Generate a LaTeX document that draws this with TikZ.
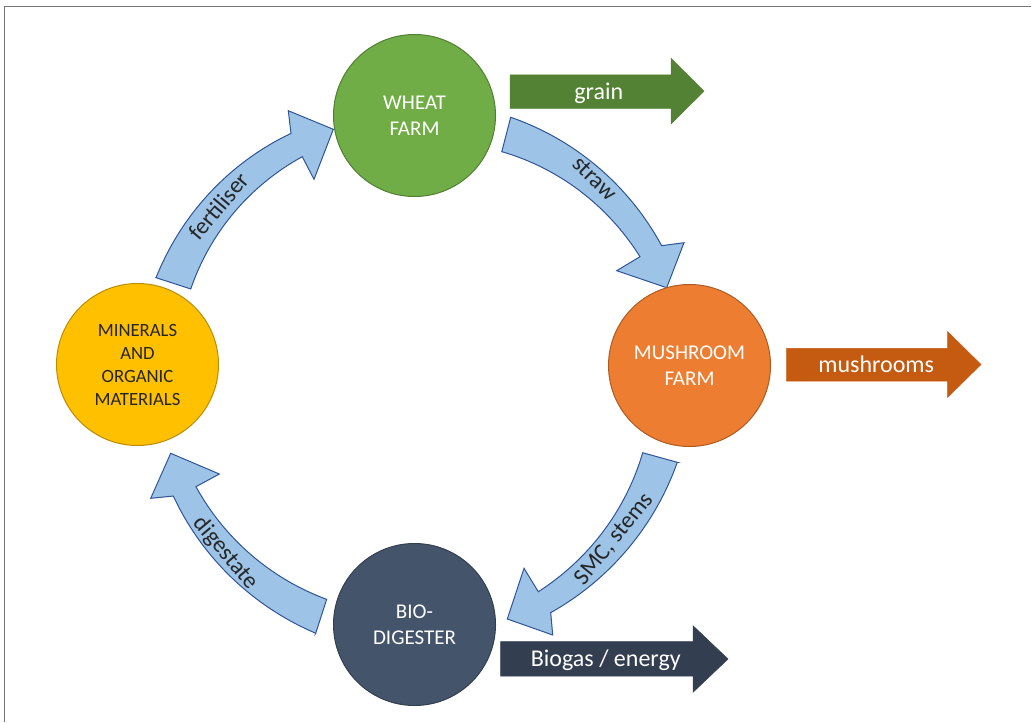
\documentclass[tikz,border=0pt]{standalone}
\usepackage{fontspec}
\setmainfont{Carlito}
\definecolor{wheatfill}{HTML}{70AD47}
\definecolor{wheatline}{HTML}{507E32}
\definecolor{mushfill}{HTML}{ED7D31}
\definecolor{mushline}{HTML}{AE5A21}
\definecolor{biofill}{HTML}{44546A}
\definecolor{bioline}{HTML}{323F4F}
\definecolor{minfill}{HTML}{FFC000}
\definecolor{minline}{HTML}{BC8C00}
\definecolor{grainc}{HTML}{548235}
\definecolor{mushc}{HTML}{C55A11}
\definecolor{biogasc}{HTML}{333F50}
\definecolor{arrfill}{HTML}{9DC3E6}
\definecolor{arrline}{HTML}{2F5597}
\definecolor{labeltext}{HTML}{262626}
\definecolor{framegray}{HTML}{767676}
\begin{document}
\begin{tikzpicture}[x=1pt,y=-1pt,
  circ/.style={circle, draw, line width=1pt, minimum size=162pt, inner sep=0pt, align=center},
  blockarrow/.style={fill=#1, draw=#1, line width=0.5pt},
  carrow/.style={fill=arrfill, draw=arrline, line width=1pt, line join=miter},
  wlabel/.style={font=\fontsize{24}{28}\selectfont, text=white, anchor=base},
  clabel/.style={font=\fontsize{23.5}{28}\selectfont, text=labeltext},
  pseg/.style n args={4}{insert path={-- plot[domain=0:1,samples=40,variable=\t]
     ({414+((#1)+((#3)-(#1))*\t)*cos((#2)+((#4)-(#2))*\t)},
      {370+((#1)+((#3)-(#1))*\t)*sin((#2)+((#4)-(#2))*\t)})}}
]
\useasboundingbox (0,0) rectangle (1032,722);
\fill[white] (0,0) rectangle (1032,722);
\draw[framegray, line width=1.5pt] (4.5,722) -- (4.5,6.5) -- (1031,6.5);

% curved arrows
\draw[carrow] (510.7,117.3) [pseg={270.6}{-69.06}{277.1}{-26.65}]
   -- (684,242.7) -- (666.7,287.7) -- (616.7,270.7)
   [pseg={252.8}{-26.63}{235.3}{-68.11}] -- cycle;
\draw[carrow] (156,277.7) [pseg={274.0}{-160.31}{266.7}{-117.46}]
   -- (288.3,110.7) -- (333.3,129.3) -- (314,179.3)
   [pseg={240.8}{-117.64}{237.5}{-160.06}] -- cycle;
\draw[carrow] (677.3,462.3) [pseg={279.0}{19.32}{278.5}{60.61}]
   -- (552.7,635) -- (507.3,619) -- (524,568.3)
   [pseg={254.2}{60.72}{243.2}{19.88}] -- cycle;
\draw[carrow] (315.7,633.3) [pseg={281.0}{110.47}{271.7}{152.37}]
   -- (150.7,498.3) -- (170.7,453.3) -- (219.3,474)
   [pseg={247.3}{151.84}{245.4}{110.84}] -- cycle;

% curved arrow labels
\node[clabel, rotate=-44] (lstraw) at (595,178.3) {straw};
\node[clabel, rotate=50] (lfert) at (218.3,206) {fertiliser};
\node[clabel, rotate=51] (lsmc) at (614,539.3) {SMC, stems};
\node[clabel, rotate=-50] (ldig) at (225.7,553.3) {digestate};

% circles
\node[circ, fill=wheatfill, draw=wheatline, text=white, font=\fontsize{21}{26}\selectfont] (wheat) at (414.5,115.5) {WHEAT\\FARM};
\node[circ, fill=mushfill, draw=mushline, text=white, font=\fontsize{21}{26}\selectfont] (mush) at (689.5,365.5) {MUSHROOM\\FARM};
\node[circ, fill=biofill, draw=bioline, text=white, font=\fontsize{21}{26}\selectfont] (bio) at (414.5,624.5) {BIO-\\DIGESTER};
\node[circ, fill=minfill, draw=minline, text=labeltext, font=\fontsize{18.7}{23}\selectfont] (min) at (137.5,364.5) {MINERALS\\AND\\ORGANIC\\MATERIALS};

% straight output arrows
\fill[blockarrow=grainc] (510,75) -- (671,75) -- (671,58.3) -- (704,91.2) -- (671,124) -- (671,108.3) -- (510,108.3) -- cycle;
\node[wlabel] (lgrain) at (598.7,99.3) {grain};
\fill[blockarrow=mushc] (786.7,348.3) -- (947.7,348.3) -- (947.7,331.7) -- (981,364.5) -- (947.7,397.3) -- (947.7,381) -- (786.7,381) -- cycle;
\node[wlabel] (lmush) at (876.2,372.7) {mushrooms};
\fill[blockarrow=biogasc] (500.7,641.7) -- (693,641.7) -- (693,625.7) -- (728,659) -- (693,692.3) -- (693,676) -- (500.7,676) -- cycle;
\node[wlabel] (lbiogas) at (605.8,666) {Biogas / energy};
\end{tikzpicture}
\end{document}
